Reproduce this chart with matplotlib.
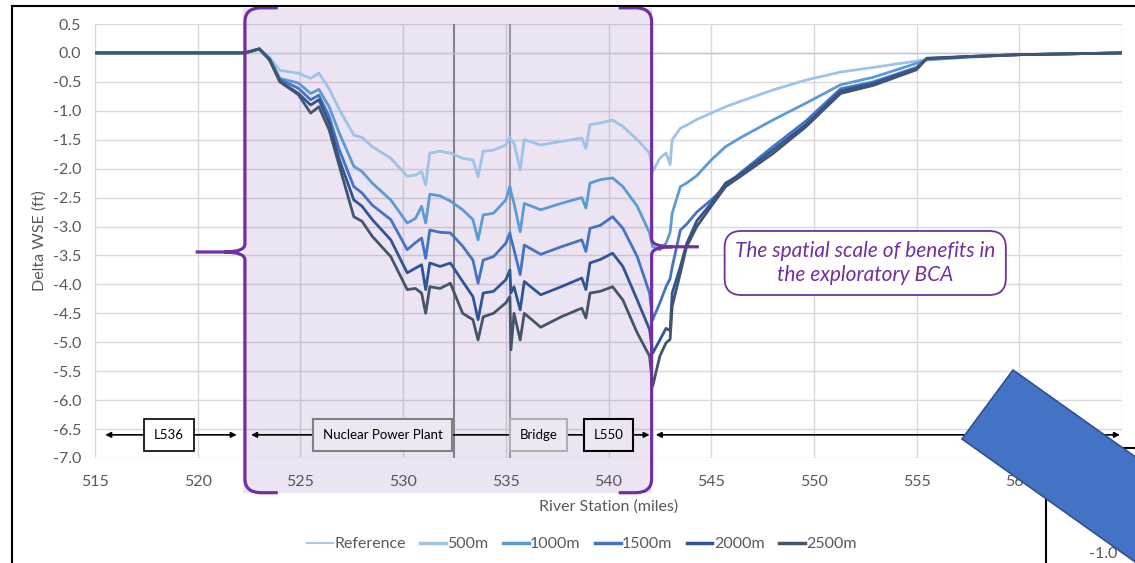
import numpy as np
import matplotlib
matplotlib.use('Agg')
import matplotlib.pyplot as plt
from matplotlib.patches import Rectangle, Polygon, PathPatch
from matplotlib.path import Path
from matplotlib.lines import Line2D

plt.rcParams['font.family'] = ['Lato', 'DejaVu Sans']
plt.rcParams['axes.unicode_minus'] = False

# River station (miles) and change in water surface elevation (ft)
station = [515.0, 522.3, 522.7, 523.0, 523.5, 524.0, 524.9, 525.5, 525.9, 526.4,
           526.9, 527.6, 528.0, 528.5, 529.4, 530.2, 530.6, 530.9, 531.1, 531.3,
           531.8, 532.3, 532.9, 533.4, 533.65, 533.9, 534.4, 535.0, 535.2, 535.25,
           535.4, 535.7, 535.9, 536.7, 537.7, 538.7, 538.9, 539.1, 539.6, 540.2,
           540.7, 541.4, 542.0, 542.15, 542.5, 542.8, 543.0, 543.1, 543.5, 543.8,
           544.3, 545.0, 545.7, 546.4, 548.0, 549.6, 551.3, 552.9, 555.0, 555.5,
           557.7, 560.0, 565.0]

wse_ref = [0.0] * len(station)

wse_500 = [0.0, 0.0, 0.04, 0.07, -0.08, -0.30, -0.35, -0.44, -0.35, -0.62,
           -0.98, -1.42, -1.46, -1.62, -1.82, -2.13, -2.11, -2.05, -2.28, -1.73,
           -1.70, -1.73, -1.82, -1.85, -2.14, -1.70, -1.68, -1.59, -1.45, -1.50,
           -1.56, -2.02, -1.50, -1.59, -1.53, -1.47, -1.65, -1.24, -1.21, -1.16,
           -1.27, -1.50, -1.73, -2.05, -1.82, -1.73, -1.93, -1.50, -1.30, -1.25,
           -1.15, -1.04, -0.93, -0.84, -0.64, -0.47, -0.33, -0.25, -0.14, -0.11,
           -0.06, -0.03, 0.0]

wse_1000 = [0.0, 0.0, 0.04, 0.07, -0.10, -0.44, -0.52, -0.70, -0.63, -0.93,
            -1.39, -1.96, -2.05, -2.25, -2.54, -2.94, -2.86, -2.65, -2.94, -2.44,
            -2.47, -2.56, -2.71, -2.88, -3.23, -2.80, -2.77, -2.54, -2.31, -2.40,
            -2.60, -3.09, -2.60, -2.71, -2.60, -2.50, -2.68, -2.25, -2.19, -2.16,
            -2.31, -2.65, -3.11, -3.35, -3.40, -3.29, -3.10, -2.77, -2.31, -2.25,
            -2.12, -1.85, -1.62, -1.47, -1.16, -0.87, -0.55, -0.42, -0.18, -0.12,
            -0.07, -0.03, 0.0]

wse_1500 = [0.0, 0.0, 0.04, 0.07, -0.10, -0.46, -0.61, -0.81, -0.73, -1.10,
            -1.68, -2.31, -2.42, -2.63, -2.88, -3.40, -3.28, -3.20, -3.55, -3.06,
            -3.10, -3.11, -3.34, -3.58, -3.98, -3.58, -3.52, -3.29, -3.11, -3.20,
            -3.40, -3.83, -3.32, -3.48, -3.35, -3.23, -3.43, -3.03, -2.98, -2.83,
            -3.03, -3.52, -4.15, -4.61, -4.32, -4.04, -3.90, -3.70, -3.06, -2.96,
            -2.75, -2.54, -2.31, -2.08, -1.62, -1.18, -0.62, -0.50, -0.25, -0.10,
            -0.06, -0.03, 0.0]

wse_2000 = [0.0, 0.0, 0.04, 0.07, -0.12, -0.49, -0.70, -0.90, -0.81, -1.21,
            -1.85, -2.54, -2.65, -2.88, -3.23, -3.80, -3.72, -3.66, -4.09, -3.63,
            -3.69, -3.63, -3.95, -4.21, -4.61, -4.15, -4.12, -3.92, -3.75, -4.15,
            -4.04, -4.44, -3.95, -4.18, -4.04, -3.89, -4.09, -3.63, -3.57, -3.46,
            -3.69, -4.27, -4.78, -5.19, -4.96, -4.76, -4.80, -4.15, -3.69, -3.30,
            -2.90, -2.60, -2.25, -2.10, -1.68, -1.24, -0.66, -0.53, -0.27, -0.10,
            -0.06, -0.03, 0.0]

wse_2500 = [0.0, 0.0, 0.04, 0.07, -0.12, -0.50, -0.72, -1.04, -0.93, -1.33,
            -1.96, -2.83, -2.91, -3.17, -3.52, -4.09, -4.07, -4.15, -4.50, -4.04,
            -4.07, -3.98, -4.50, -4.61, -4.96, -4.56, -4.50, -4.32, -4.21, -5.13,
            -4.50, -4.96, -4.50, -4.74, -4.56, -4.41, -4.58, -4.15, -4.12, -4.04,
            -4.27, -4.84, -5.24, -5.76, -5.24, -5.01, -4.95, -4.38, -3.80, -3.35,
            -3.00, -2.65, -2.31, -2.14, -1.74, -1.28, -0.70, -0.56, -0.29, -0.09,
            -0.06, -0.03, 0.0]

series_names = ['Reference', '500m', '1000m', '1500m', '2000m', '2500m']
series_colors = ['#B4C7E7', '#9DC3E6', '#5B9BD5', '#4472C4', '#2F5597', '#44546A']
series_widths = [1.0, 2.0, 2.0, 2.0, 2.0, 2.0]

# study reach and landmarks
area_start, area_end = 522.2, 542.1
plant_x, bridge_x = 532.5, 535.2
marker_y = -6.6
purple = '#7030A0'
grey_txt = '#595959'
fs = 11.5

fig = plt.figure(figsize=(11.35, 5.63), dpi=100)
ax = fig.add_axes([95 / 1135, 1 - 458 / 563, 1027 / 1135, 434 / 563])
ax.set_xlim(515, 565)
ax.set_ylim(-7.0, 0.5)
ax.set_xticks(np.arange(515, 566, 5))
ax.set_yticks(np.arange(-7.0, 0.51, 0.5))
ax.yaxis.set_major_formatter(matplotlib.ticker.FormatStrFormatter('%.1f'))
ax.grid(True, color='#D9D9D9', lw=1.0, zorder=0)
ax.set_axisbelow(True)
for s in ax.spines.values():
    s.set_visible(False)
ax.tick_params(axis='both', length=0, labelsize=fs, colors=grey_txt)
ax.tick_params(axis='x', pad=12)
ax.tick_params(axis='y', pad=10)
ax.set_xlabel('River Station (miles)', fontsize=fs, color=grey_txt, labelpad=8)
ax.set_ylabel('Delta WSE (ft)', fontsize=fs, color=grey_txt, labelpad=4)

# shaded study area (runs past the plot frame like in the slide)
shade = Rectangle((area_start, -7.6), area_end - area_start, 8.38,
                  facecolor=purple, alpha=0.13, edgecolor='none',
                  clip_on=False, zorder=1)
ax.add_patch(shade)

ax.axvline(plant_x, color='#85828C', lw=1.5, zorder=2)
ax.axvline(bridge_x, color='#9A97A0', lw=1.5, zorder=2)

all_series = [wse_ref, wse_500, wse_1000, wse_1500, wse_2000, wse_2500]
for vals, name, c, w in zip(all_series, series_names, series_colors, series_widths):
    ax.plot(station, vals, color=c, lw=w, label=name, zorder=3,
            solid_joinstyle='round')


def brace(ax, x, tip_x, tip_y, y_top, y_bot, d):
    # d = +1 -> curls open to the right (left brace), -1 -> mirrored
    arm = 1.6 * d
    cx, cy = 0.8 * d, 0.24
    tx, ty = 1.0 * d, 0.14
    verts = [(x + arm, y_top), (x + cx, y_top),
             (x, y_top), (x, y_top - cy),
             (x, tip_y + ty),
             (x, tip_y), (x - tx, tip_y),
             (tip_x, tip_y),
             (x - tx, tip_y),
             (x, tip_y), (x, tip_y - ty),
             (x, y_bot + cy),
             (x, y_bot), (x + cx, y_bot),
             (x + arm, y_bot)]
    codes = [Path.MOVETO, Path.LINETO,
             Path.CURVE3, Path.CURVE3,
             Path.LINETO,
             Path.CURVE3, Path.CURVE3,
             Path.LINETO,
             Path.MOVETO,
             Path.CURVE3, Path.CURVE3,
             Path.LINETO,
             Path.CURVE3, Path.CURVE3,
             Path.LINETO]
    ax.add_patch(PathPatch(Path(verts, codes), facecolor='none', edgecolor=purple,
                           lw=2.3, clip_on=False, zorder=6, capstyle='butt'))


brace(ax, area_start + 0.1, 519.9, -3.44, 0.78, -7.6, 1)
brace(ax, area_end, 544.4, -3.35, 0.78, -7.6, -1)

# reach arrows along the bottom
arrow_kw = dict(arrowstyle='<|-|>', color='black', lw=1.2, mutation_scale=8,
                shrinkA=0, shrinkB=0)
ax.annotate('', xy=(515.5, marker_y), xytext=(521.9, marker_y),
            arrowprops=arrow_kw, annotation_clip=False, zorder=4)
ax.annotate('', xy=(522.6, marker_y), xytext=(542.0, marker_y),
            arrowprops=arrow_kw, annotation_clip=False, zorder=4)
ax.annotate('', xy=(542.3, marker_y), xytext=(564.9, marker_y),
            arrowprops=arrow_kw, annotation_clip=False, zorder=4)

lav = '#EDE7F2'
ax.text(518.6, marker_y, 'L536', ha='center', va='center', fontsize=9.5, zorder=5,
        bbox=dict(boxstyle='square,pad=0.75', fc='white', ec='black', lw=1.2))
ax.text(529.0, marker_y, 'Nuclear Power Plant', ha='center', va='center',
        fontsize=9.5, zorder=5,
        bbox=dict(boxstyle='square,pad=0.75', fc=lav, ec='#808080', lw=1.5))
ax.text(536.6, marker_y, 'Bridge', ha='center', va='center', fontsize=9.5, zorder=5,
        bbox=dict(boxstyle='square,pad=0.75', fc=lav, ec='#B0B0B0', lw=1.5))
ax.text(540.0, marker_y, 'L550', ha='center', va='center', fontsize=9.5, zorder=5,
        bbox=dict(boxstyle='square,pad=0.75', fc=lav, ec='black', lw=1.5))

ax.text(552.5, -3.63, 'The spatial scale of benefits in\nthe exploratory BCA',
        ha='center', va='center', fontsize=15, style='italic', color=purple,
        linespacing=1.2, zorder=6,
        bbox=dict(boxstyle='round,pad=0.5,rounding_size=0.8', fc='white',
                  ec=purple, lw=1.3))

handles = [Line2D([], [], color=c, lw=w + 0.5) for c, w in zip(series_colors, series_widths)]
fig.legend(handles, series_names, loc='center', bbox_to_anchor=(582 / 1135, 1 - 544 / 563),
           ncol=6, frameon=False, fontsize=fs, handlelength=1.6, handletextpad=0.1,
           columnspacing=0.9, labelcolor=grey_txt)

# slide border
fig.add_artist(Line2D([12 / 1135, 12 / 1135], [0, 1 - 6 / 563], color='black', lw=1.5,
                      transform=fig.transFigure))
fig.add_artist(Line2D([12 / 1135, 1], [1 - 6 / 563, 1 - 6 / 563], color='black', lw=1.5,
                      transform=fig.transFigure))

# neighbouring chart frame and the blue arrow shape from the slide
fig.add_artist(Line2D([1046 / 1135, 1], [1 - 448 / 563, 1 - 448 / 563], color='black',
                      lw=1.5, transform=fig.transFigure, zorder=8))
fig.add_artist(Line2D([1046 / 1135, 1046 / 1135], [0, 1 - 448 / 563], color='black',
                      lw=1.5, transform=fig.transFigure, zorder=8))
fig.text(1103 / 1135, 2 / 563, '-1.0', ha='center', va='bottom', fontsize=fs,
         color=grey_txt, zorder=8)
px = [(1013, 370), (962, 439), (1262, 652), (1313, 583)]
fig.add_artist(Polygon([(a / 1135, 1 - b / 563) for a, b in px], closed=True,
                       facecolor='#4472C4', edgecolor='#2F528F', lw=1.2,
                       transform=fig.transFigure, zorder=9))

fig.savefig('out.png', dpi=100)
